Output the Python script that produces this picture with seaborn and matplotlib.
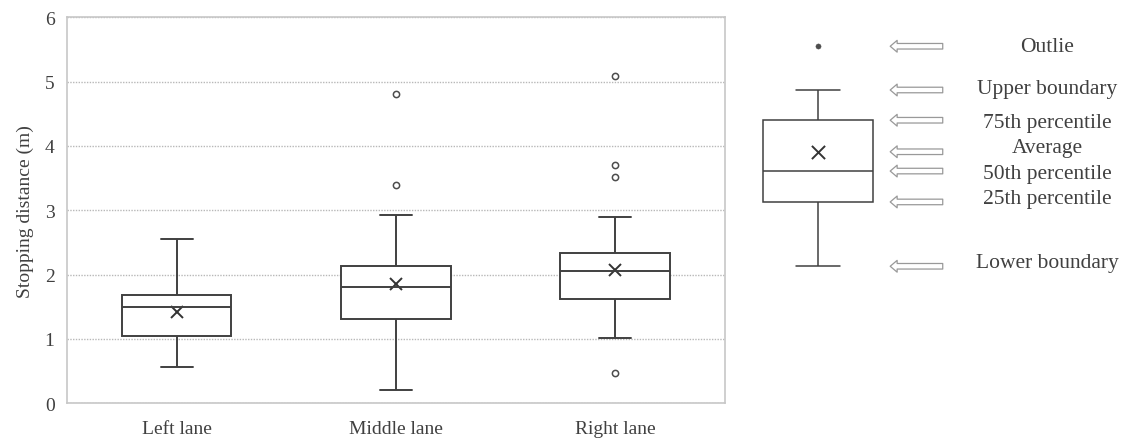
import numpy as np
import pandas as pd
import matplotlib.pyplot as plt
import seaborn as sns

# ------------------------------------
# data
# ------------------------------------

lanes = ["Left lane", "Middle lane", "Right lane"]

# lower whisker, 25th, 50th, 75th percentile, upper whisker
left_box = [0.57, 1.04, 1.50, 1.69, 2.55]
middle_box = [0.20, 1.31, 1.81, 2.13, 2.92]
right_box = [1.02, 1.62, 2.06, 2.33, 2.89]
lane_means = [1.42, 1.85, 2.07]

outlier_lanes = ["Middle lane", "Middle lane",
                 "Right lane", "Right lane", "Right lane", "Right lane"]
outlier_values = [3.39, 4.81, 0.47, 3.52, 3.70, 5.09]

# schematic key box (drawn on the same 0-6 scale)
key_box = [2.13, 3.13, 3.61, 4.40, 4.87]
key_mean = 3.91
key_outlier = 5.55
key_labels = ["Outlie", "Upper boundary", "75th percentile", "Average",
              "50th percentile", "25th percentile", "Lower boundary"]

# ------------------------------------
# style
# ------------------------------------

sns.set_theme(style="white")
plt.rcParams['font.family'] = ['Liberation Serif', 'DejaVu Serif']

line_col = "0.25"
text_col = "0.25"

fig = plt.figure(figsize=(11.31, 4.39), dpi=100)
ax = fig.add_axes([67 / 1131, 34.7 / 439, 658 / 1131, 386 / 439])

boxes = pd.DataFrame({"lane": np.repeat(lanes, 5),
                      "dist": left_box + middle_box + right_box})
outliers = pd.DataFrame({"lane": outlier_lanes, "dist": outlier_values})

sns.boxplot(data=boxes, x="lane", y="dist", order=lanes, whis=(0, 100),
            width=0.5, color="white", linecolor=line_col, linewidth=1.4,
            showfliers=False, capwidths=0.145, ax=ax)
sns.stripplot(data=outliers, x="lane", y="dist", order=lanes, jitter=False,
              color="white", edgecolor="0.3", linewidth=1.1, size=4.5,
              zorder=3, ax=ax)
sns.pointplot(x=lanes, y=lane_means, order=lanes, linestyle="none",
              marker="x", markersize=8, markeredgewidth=1.4, color="0.2",
              errorbar=None, ax=ax)

ax.set_xlim(-0.5, 2.5)
ax.set_ylim(0, 6)
ax.set_yticks(range(7))
ax.yaxis.grid(True, linestyle=(0, (1, 1)), color="0.72", linewidth=1.0)
ax.set_axisbelow(True)
for sp in ax.spines.values():
    sp.set_color("0.78")
    sp.set_linewidth(1.2)
ax.tick_params(length=0, labelsize=14, colors=text_col)
ax.tick_params(axis="x", pad=12)
ax.tick_params(axis="y", pad=9)
ax.set_xlabel("")
ax.set_ylabel("Stopping distance (m)", fontsize=14, color=text_col, labelpad=8)

# ------------------------------------
# key on the right
# ------------------------------------

lax = fig.add_axes([708.5 / 1131, 34.7 / 439, 422.5 / 1131, 386 / 439])
lax.patch.set_alpha(0)
sns.boxplot(y=key_box, whis=(0, 100), width=0.5, color="white",
            linecolor=line_col, linewidth=1.1, showfliers=False,
            capwidths=0.2, ax=lax)
sns.scatterplot(x=[0], y=[key_mean], marker="x", s=90, linewidth=1.4,
                color="0.2", zorder=5, ax=lax)
sns.scatterplot(x=[0], y=[key_outlier], s=14, color="0.3",
                edgecolor="0.3", zorder=5, ax=lax)

key_y = [key_outlier, key_box[4], key_box[3], key_mean,
         key_box[2], key_box[1], key_box[0]]
# small vertical nudges (points) so the labels sit as in the original
label_nudge = [0, 1, -1.5, 3, -2, 2.5, 2.5]
for y, label, dy in zip(key_y, key_labels, label_nudge):
    lax.annotate("", xy=(0.33, y), xytext=(0.57, y),
                 arrowprops=dict(arrowstyle="simple,head_length=0.5,"
                                 "head_width=0.85,tail_width=0.4",
                                 mutation_scale=10, fc="white", ec="0.6",
                                 lw=0.9, shrinkA=0, shrinkB=0))
    lax.annotate(label, xy=(1.046, y), xytext=(0, dy),
                 textcoords="offset points", ha="center", va="center",
                 fontsize=15.5, color=text_col)

lax.set_xlim(-0.5, 1.43)
lax.set_ylim(0, 6)
lax.axis("off")

fig.savefig("out.png", dpi=100)
